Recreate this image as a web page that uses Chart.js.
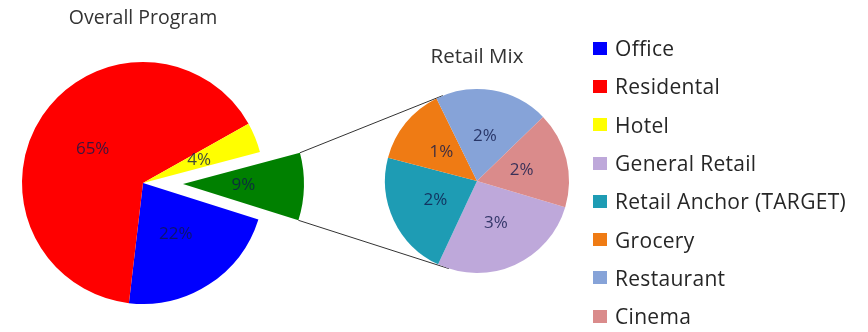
<!DOCTYPE html>
<html>
<head>
<meta charset="utf-8">
<script src="https://cdn.jsdelivr.net/npm/chart.js@4.4.1/dist/chart.umd.min.js"></script>
<style>
  html, body { margin: 0; padding: 0; background: #fff; }
  #wrap { position: relative; width: 868px; height: 332px; overflow: hidden; font-family: 'Open Sans', sans-serif; }
  #wrap canvas { position: absolute; left: 0; top: 0; }
  #legend { position: absolute; left: 593px; top: 29px; margin: 0; padding: 0; list-style: none; }
  #legend li { height: 38.3px; display: flex; align-items: center; white-space: nowrap; font-size: 21px; letter-spacing: 0.3px; color: #262626; }
  #legend span { display: inline-block; width: 14px; height: 13px; margin-right: 8px; }
</style>
</head>
<body>
<div id="wrap">
  <canvas id="programChart" width="868" height="332"></canvas>
  <canvas id="retailChart" width="868" height="332"></canvas>
  <ul id="legend"></ul>
</div>
<script>
// Overall program split (percent of total)
const programLabels = ['Office', 'Residental', 'Hotel', 'Retail'];
const programValues = [22, 65, 4, 9];
const programColors = ['#0000ff', '#ff0000', '#ffff00', '#008000'];

// Retail slice broken down (percent of total)
const retailLabels = ['General Retail', 'Retail Anchor (TARGET)', 'Grocery', 'Restaurant', 'Cinema'];
const retailValues = [2.6, 2.1, 1.3, 1.9, 1.6];
const retailColors = ['#bea8da', '#1e9cb4', '#ef7b14', '#86a3d8', '#da8b8b'];

const EXPLODE = 40;      // how far the retail wedge is pulled out
const LABEL_FONT = "17px 'Open Sans', sans-serif";

// Percent labels drawn in the middle of each wedge
const pctLabels = {
    id: 'pctLabels',
    afterDatasetsDraw(chart) {
        const ctx = chart.ctx;
        const meta = chart.getDatasetMeta(0);
        const values = chart.data.datasets[0].data;
        ctx.save();
        ctx.font = LABEL_FONT;
        ctx.fillStyle = 'rgba(15, 25, 75, 0.8)';
        ctx.textAlign = 'center';
        ctx.textBaseline = 'middle';
        meta.data.forEach((arc, i) => {
            const p = arc.getCenterPoint();
            ctx.fillText(Math.round(values[i]) + '%', p.x, p.y);
        });
        ctx.restore();
    }
};

// Pull the last wedge (Retail) out of the main pie
const explodeRetail = {
    id: 'explodeRetail',
    afterUpdate(chart) {
        const arcs = chart.getDatasetMeta(0).data;
        const arc = arcs[arcs.length - 1];
        const mid = (arc.startAngle + arc.endAngle) / 2;
        arc.x += Math.cos(mid) * EXPLODE;
        arc.y += Math.sin(mid) * EXPLODE;
    }
};

const programChart = new Chart(document.getElementById('programChart'), {
    type: 'pie',
    data: {
        labels: programLabels,
        datasets: [{
            data: programValues,
            backgroundColor: programColors,
            borderWidth: 0,
            hoverOffset: 0
        }]
    },
    options: {
        responsive: false,
        animation: false,
        rotation: 107.5,
        layout: { padding: { left: 22, right: 604, top: 0, bottom: 28 } },
        plugins: {
            legend: { display: false },
            tooltip: { enabled: false },
            title: {
                display: true,
                text: 'Overall Program',
                color: '#333',
                font: { family: "'Open Sans', sans-serif", size: 19.5, weight: 'normal' },
                padding: { top: 7, bottom: 31.6 }
            }
        }
    },
    plugins: [explodeRetail, pctLabels]
});

// Lines from the pulled-out wedge to the tangents of the retail pie
const connectors = {
    id: 'connectors',
    beforeDatasetsDraw(chart) {
        const src = programChart.getDatasetMeta(0).data[programValues.length - 1];
        const dst = chart.getDatasetMeta(0).data[0];
        const cx = dst.x, cy = dst.y, r = dst.outerRadius;
        const ctx = chart.ctx;
        ctx.save();
        ctx.strokeStyle = '#333';
        ctx.lineWidth = 1;
        [[src.startAngle, -1], [src.endAngle, 1]].forEach(([a, side]) => {
            const px = src.x + Math.cos(a) * src.outerRadius;
            const py = src.y + Math.sin(a) * src.outerRadius;
            const d = Math.hypot(px - cx, py - cy);
            const base = Math.atan2(py - cy, px - cx);
            const t = base - side * Math.acos(r / d);
            ctx.beginPath();
            ctx.moveTo(px, py);
            ctx.lineTo(cx + Math.cos(t) * r, cy + Math.sin(t) * r);
            ctx.stroke();
        });
        ctx.restore();
    }
};

const retailChart = new Chart(document.getElementById('retailChart'), {
    type: 'pie',
    data: {
        labels: retailLabels,
        datasets: [{
            data: retailValues,
            backgroundColor: retailColors,
            borderWidth: 0,
            hoverOffset: 0
        }]
    },
    options: {
        responsive: false,
        animation: false,
        rotation: 106.5,
        layout: { padding: { left: 385, right: 299, top: 0, bottom: 59 } },
        plugins: {
            legend: { display: false },
            tooltip: { enabled: false },
            title: {
                display: true,
                text: 'Retail Mix',
                color: '#333',
                font: { family: "'Open Sans', sans-serif", size: 20.5, weight: 'normal' },
                padding: { top: 44.7, bottom: 19.7 }
            }
        }
    },
    plugins: [connectors, pctLabels]
});

// Combined legend: program uses first three, then the retail breakdown
const legendLabels = programLabels.slice(0, 3).concat(retailLabels);
const legendColors = programColors.slice(0, 3).concat(retailColors);
const legend = document.getElementById('legend');
legendLabels.forEach((label, i) => {
    const li = document.createElement('li');
    li.innerHTML = `<span style="background:${legendColors[i]}"></span>${label}`;
    legend.appendChild(li);
});
</script>
</body>
</html>
